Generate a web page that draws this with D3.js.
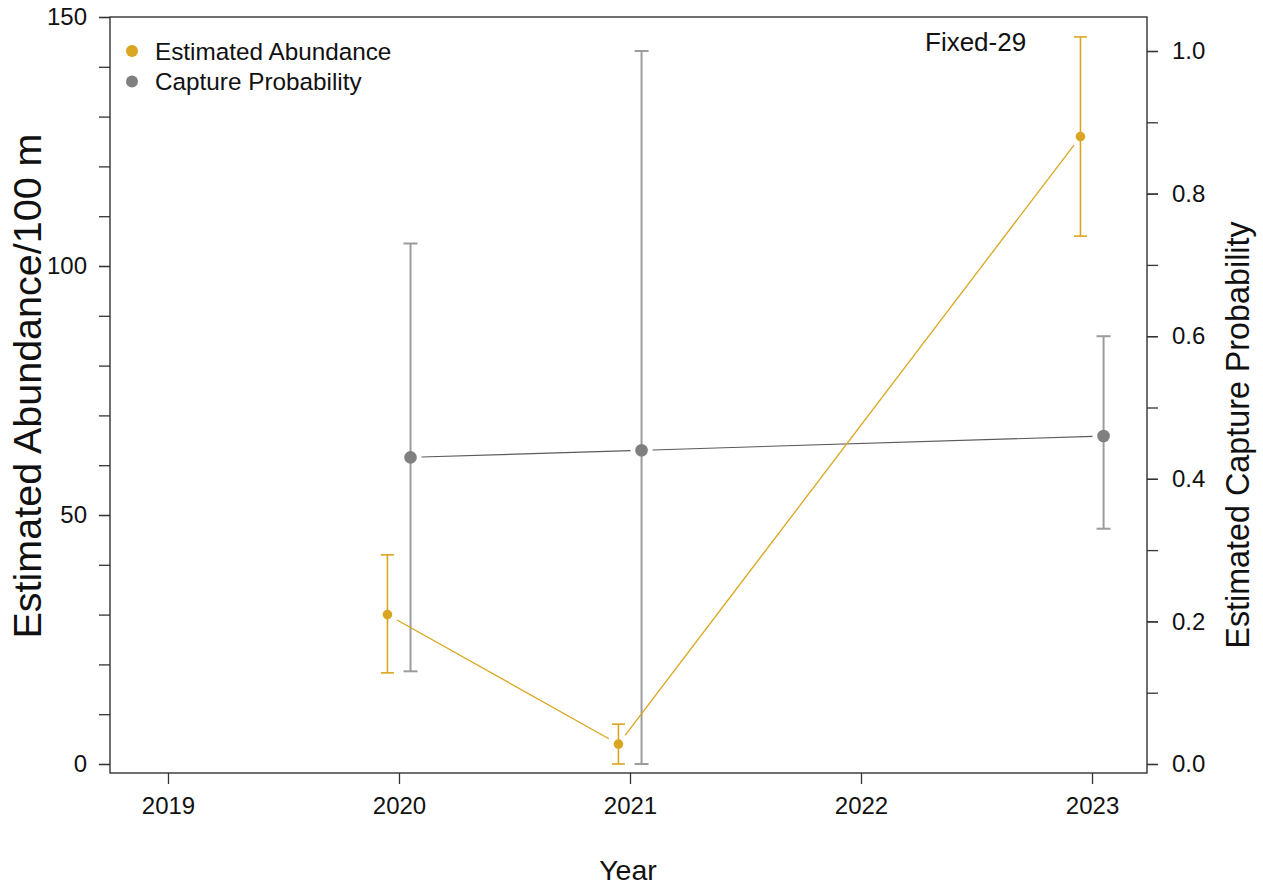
<!DOCTYPE html>
<html>
<head>
<meta charset="utf-8">
<script src="https://cdn.jsdelivr.net/npm/d3@7"></script>
<style>
  body { margin: 0; background: #fff; }
  svg { display: block; font-family: "Liberation Sans", Arial, sans-serif; }
</style>
</head>
<body>
<svg id="chart" width="1263" height="885"></svg>
<script>
// Survey years and estimates
const years = [2020, 2021, 2023];
const abundance = [30, 4, 126];
const abundanceLo = [18.3, 0, 106];
const abundanceHi = [42, 8, 146];
const captureProb = [0.43, 0.44, 0.46];
const captureLo = [0.13, 0, 0.33];
const captureHi = [0.73, 1.0, 0.60];
const xTicks = [2019, 2020, 2021, 2022, 2023];
const leftTicks = [0, 50, 100, 150];
const rightTicks = [0, 0.2, 0.4, 0.6, 0.8, 1.0];
const siteLabel = "Fixed-29";

const gold = "#DAA520";
const grey = "#808080";
const greyCI = "#9c9c9c";

const svg = d3.select("#chart");
const box = { left: 110, right: 1147, top: 17, bottom: 773 };

const x = d3.scaleLinear().domain([2018.749, 2023.238]).range([box.left, box.right]);
const yL = d3.scaleLinear().domain([0, 150]).range([764, 17]);
const yR = d3.scaleLinear().domain([0, 1]).range([764, 51]);
const dodge = 0.05;

// Plot frame
svg.append("rect")
  .attr("x", box.left).attr("y", box.top)
  .attr("width", box.right - box.left).attr("height", box.bottom - box.top)
  .attr("fill", "none").attr("stroke", "#333").attr("stroke-width", 1.4);

function styleAxis(g, fs) {
  g.select(".domain").remove();
  g.selectAll(".tick line").attr("stroke", "#333").attr("stroke-width", 1.3);
  g.selectAll(".tick text").attr("fill", "#111").style("font-size", fs + "px")
    .style("font-family", "'Liberation Sans', Arial, sans-serif");
}

// Bottom axis
const gx = svg.append("g").attr("transform", `translate(0,${box.bottom})`)
  .call(d3.axisBottom(x).tickValues(xTicks).tickFormat(d3.format("d")).tickSize(11).tickPadding(13));
styleAxis(gx, 24);

// Left axis: minor ticks every 10, labels every 50
const gLminor = svg.append("g").attr("transform", `translate(${box.left},0)`)
  .call(d3.axisLeft(yL).tickValues(d3.range(0, 151, 10)).tickFormat("").tickSize(11));
styleAxis(gLminor, 24);
const gL = svg.append("g").attr("transform", `translate(${box.left},0)`)
  .call(d3.axisLeft(yL).tickValues(leftTicks).tickFormat(d3.format("d")).tickSize(11).tickPadding(12));
styleAxis(gL, 24);

// Right axis: ticks every 0.1, labels every 0.2
const gRminor = svg.append("g").attr("transform", `translate(${box.right},0)`)
  .call(d3.axisRight(yR).tickValues(d3.range(0, 1.01, 0.1)).tickFormat("").tickSize(11));
styleAxis(gRminor, 24);
const gR = svg.append("g").attr("transform", `translate(${box.right},0)`)
  .call(d3.axisRight(yR).tickValues(rightTicks).tickFormat(d3.format(".1f")).tickSize(11).tickPadding(14));
styleAxis(gR, 24);

// Axis titles
svg.append("text").attr("x", 628).attr("y", 880).attr("text-anchor", "middle")
  .style("font-size", "28.5px").attr("fill", "#111").text("Year");
svg.append("text").attr("transform", "translate(41,386) rotate(-90)").attr("text-anchor", "middle")
  .style("font-size", "39.5px").attr("fill", "#111").text("Estimated Abundance/100 m");
svg.append("text").attr("transform", "translate(1249,435) rotate(-90)").attr("text-anchor", "middle")
  .style("font-size", "32.3px").attr("fill", "#111").text("Estimated Capture Probability");

// Connecting segments with gaps around the points
function gappedLines(xs, ys, color, width, gap) {
  for (let i = 0; i < xs.length - 1; i++) {
    const x0 = xs[i], y0 = ys[i], x1 = xs[i + 1], y1 = ys[i + 1];
    const len = Math.hypot(x1 - x0, y1 - y0);
    const ux = (x1 - x0) / len, uy = (y1 - y0) / len;
    svg.append("line")
      .attr("x1", x0 + ux * gap).attr("y1", y0 + uy * gap)
      .attr("x2", x1 - ux * gap).attr("y2", y1 - uy * gap)
      .attr("stroke", color).attr("stroke-width", width);
  }
}

function errorBars(xs, lo, hi, color, width, cap) {
  xs.forEach((xv, i) => {
    svg.append("line").attr("x1", xv).attr("x2", xv).attr("y1", lo[i]).attr("y2", hi[i])
      .attr("stroke", color).attr("stroke-width", width);
    [lo[i], hi[i]].forEach(yv => {
      svg.append("line").attr("x1", xv - cap).attr("x2", xv + cap).attr("y1", yv).attr("y2", yv)
        .attr("stroke", color).attr("stroke-width", width);
    });
  });
}

// Capture probability (right axis)
const cx = years.map(d => x(d + dodge));
const cy = captureProb.map(d => yR(d));
errorBars(cx, captureLo.map(d => yR(d)), captureHi.map(d => yR(d)), greyCI, 2, 7);
gappedLines(cx, cy, "#5a5a5a", 1.1, 11);
svg.selectAll("circle.cap").data(years).enter().append("circle").attr("class", "cap")
  .attr("cx", (d, i) => cx[i]).attr("cy", (d, i) => cy[i]).attr("r", 6.3).attr("fill", grey);

// Estimated abundance (left axis)
const ax = years.map(d => x(d - dodge));
const ay = abundance.map(d => yL(d));
errorBars(ax, abundanceLo.map(d => yL(d)), abundanceHi.map(d => yL(d)), gold, 1.6, 6.5);
gappedLines(ax, ay, gold, 1.3, 11);
svg.selectAll("circle.abd").data(years).enter().append("circle").attr("class", "abd")
  .attr("cx", (d, i) => ax[i]).attr("cy", (d, i) => ay[i]).attr("r", 4.8).attr("fill", gold);

// Legend
const legend = [["Estimated Abundance", gold], ["Capture Probability", grey]];
legend.forEach((d, i) => {
  svg.append("circle").attr("cx", 132).attr("cy", 51 + i * 30.5).attr("r", 6).attr("fill", d[1]);
  svg.append("text").attr("x", 155).attr("y", 60 + i * 30).style("font-size", "24.3px")
    .attr("fill", "#111").text(d[0]);
});

// Site label
svg.append("text").attr("x", 925).attr("y", 51).style("font-size", "26px")
  .attr("fill", "#111").text(siteLabel);
</script>
</body>
</html>
